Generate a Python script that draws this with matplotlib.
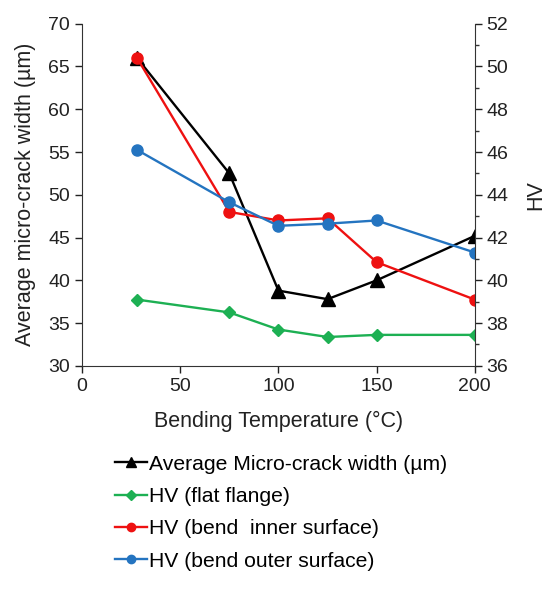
import numpy as np
import matplotlib
matplotlib.use("Agg")
import matplotlib.pyplot as plt
from matplotlib.ticker import MultipleLocator

plt.rcParams["font.family"] = ["Liberation Sans", "DejaVu Sans"]

# ---- data ----
temp = [28, 75, 100, 125, 150, 200]
crack_width = [66.0, 52.5, 38.8, 37.8, 40.0, 45.2]      # left axis (um)
hv_flat = [39.1, 38.5, 37.7, 37.35, 37.45, 37.45]        # right axis
hv_inner = [50.4, 43.2, 42.8, 42.9, 40.85, 39.1]
hv_outer = [46.1, 43.65, 42.55, 42.65, 42.8, 41.3]

labels = ["Average Micro-crack width (\u00b5m)", "HV (flat flange)",
          "HV (bend  inner surface)", "HV (bend outer surface)"]

fig = plt.figure(figsize=(5.47, 5.93), dpi=100)
ax = fig.add_axes([0.150, 0.383, 0.718, 0.577])
ax2 = ax.twinx()

l1, = ax.plot(temp, crack_width, color="black", marker="^", ms=9.5, lw=1.7)
l2, = ax2.plot(temp, hv_flat, color="#1db053", marker="D", ms=6.5, lw=1.7)
l3, = ax2.plot(temp, hv_inner, color="#ee1111", marker="o", ms=8, lw=1.7)
l4, = ax2.plot(temp, hv_outer, color="#2474c0", marker="o", ms=8, lw=1.7)

ax.set_xlim(0, 200)
ax.set_ylim(30, 70)
ax2.set_ylim(36, 52)
ax.xaxis.set_major_locator(MultipleLocator(50))
ax.yaxis.set_major_locator(MultipleLocator(5))
ax2.yaxis.set_major_locator(MultipleLocator(2))
ax2.yaxis.set_minor_locator(MultipleLocator(1))

for a in (ax, ax2):
    a.spines["top"].set_visible(False)
    a.tick_params(labelsize=14, colors="#222222", length=5, width=1)
    for s in a.spines.values():
        s.set_color("#333333")
ax2.tick_params(which="minor", length=3, width=1, color="#333333")
ax.spines["right"].set_visible(False)
ax2.spines["left"].set_visible(False)
ax2.spines["bottom"].set_visible(False)

ax.set_xlabel("Bending Temperature (\u00b0C)", fontsize=15.5, color="#222222", labelpad=12)
ax.set_ylabel("Average micro-crack width (\u00b5m)", fontsize=15.5, color="#222222", labelpad=9)
ax2.set_ylabel("HV", fontsize=15.5, color="#222222", labelpad=12)

fig.legend([l1, l2, l3, l4], labels, loc="upper left",
           bbox_to_anchor=(0.21, 0.233), frameon=False, fontsize=15.2,
           handlelength=1.5, handletextpad=0.1, labelspacing=0.63,
           markerscale=0.75, borderaxespad=0, borderpad=0)

fig.savefig("out.png", dpi=100)
